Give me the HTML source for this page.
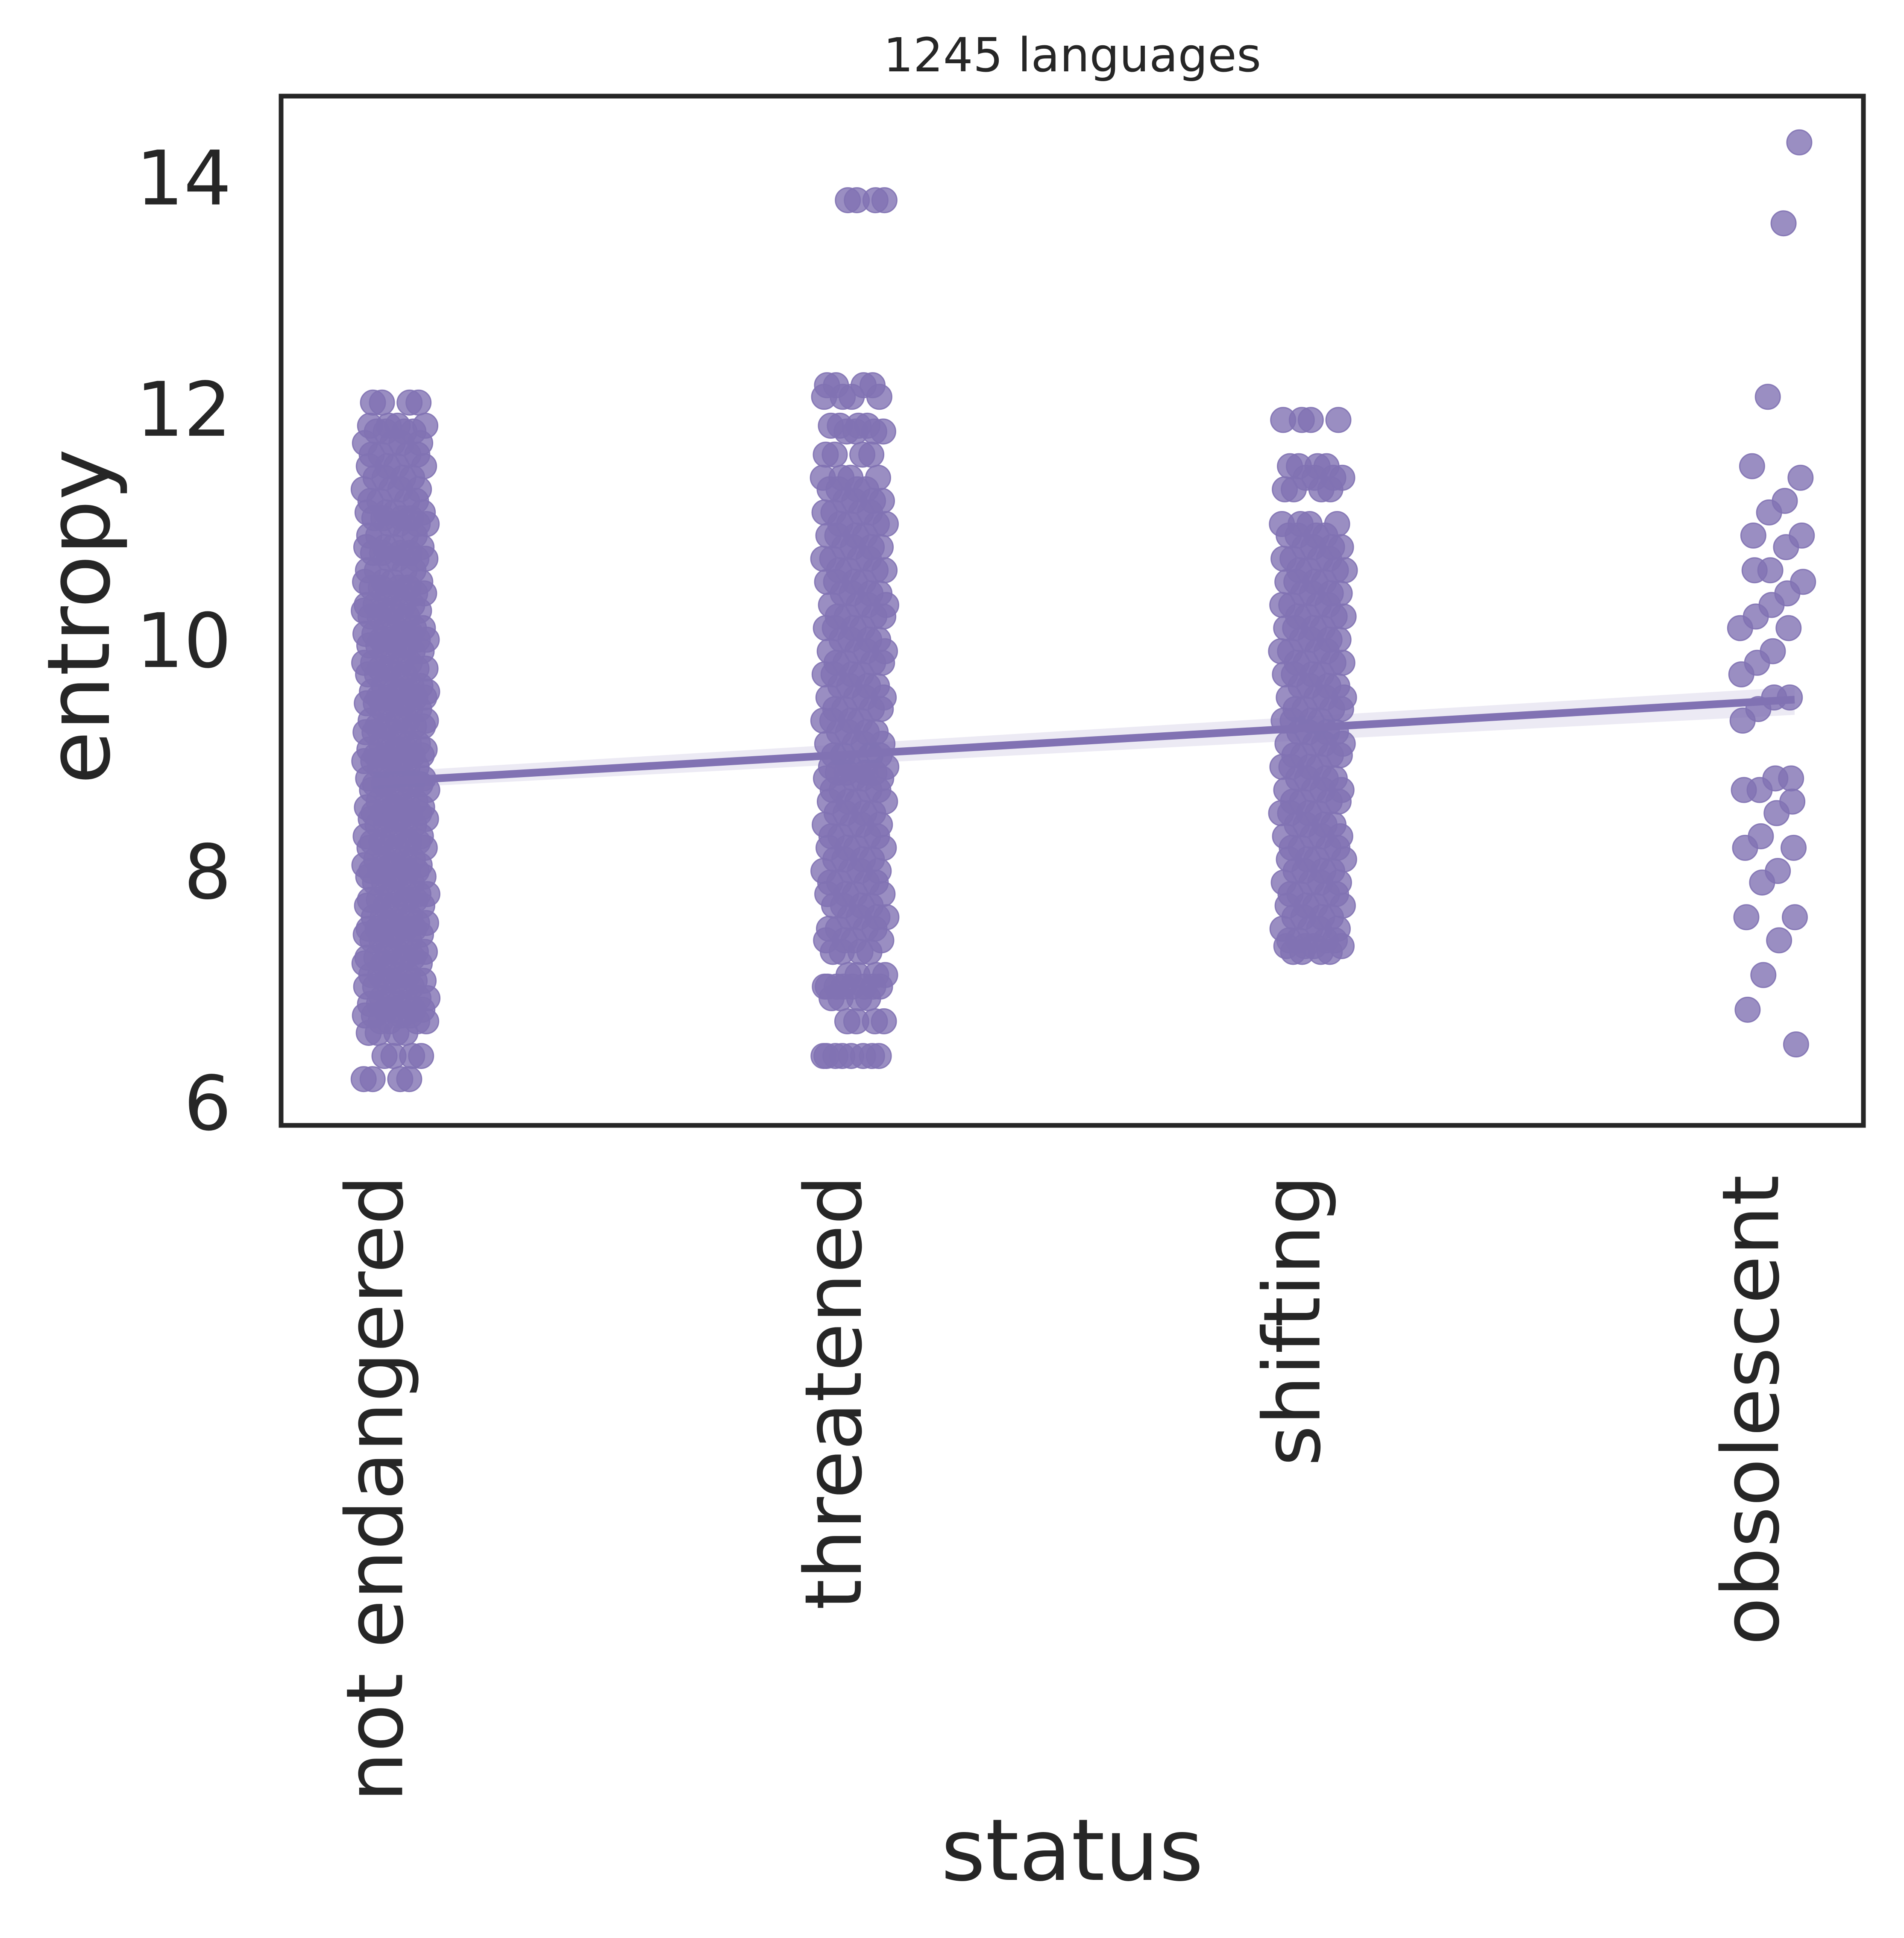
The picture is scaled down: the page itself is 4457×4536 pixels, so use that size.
<!DOCTYPE html>
<html><head><meta charset="utf-8"><style>
html,body{margin:0;padding:0;background:#fff;}
svg{display:block;font-family:"DejaVu Sans","Liberation Sans",sans-serif;}
</style></head><body>
<svg id="chart" width="4457" height="4536" viewBox="0 0 4457 4536" xmlns="http://www.w3.org/2000/svg">
<rect x="0" y="0" width="4457" height="4536" fill="#fff"/>
<g id="marks"></g>
<g id="axes"></g>
</svg>
<script>
const categories = ["not endangered","threatened","shifting","obsolescent"];
const yTicks = [6,8,10,12,14];
const valsNotEndangered = [6.2,6.4,6.6,6.7,6.75,6.8,6.85,6.9,7.0,7.05,7.1,7.2,7.25,7.3,7.4,7.45,7.5,7.55,7.6,7.7,7.75,7.8,7.9,7.95,8.0,8.05,8.1,8.2,8.25,8.3,8.4,8.45,8.5,8.55,8.6,8.7,8.75,8.8,8.9,8.95,9.0,9.05,9.1,9.2,9.25,9.3,9.4,9.45,9.5,9.55,9.6,9.7,9.75,9.8,9.9,9.95,10.0,10.05,10.1,10.2,10.25,10.3,10.4,10.45,10.5,10.6,10.7,10.75,10.8,10.9,11.0,11.05,11.1,11.2,11.3,11.4,11.5,11.6,11.7,11.8,11.85,12.05];
const valsThreatened = [6.4,6.4,6.7,6.9,7.0,7.0,7.1,7.3,7.4,7.5,7.6,7.7,7.8,7.9,8.0,8.1,8.2,8.3,8.4,8.5,8.6,8.7,8.8,8.85,8.9,9.0,9.1,9.2,9.3,9.4,9.5,9.6,9.7,9.8,9.9,10.0,10.1,10.2,10.3,10.4,10.5,10.6,10.7,10.8,10.9,11.0,11.1,11.2,11.3,11.4,11.6,11.8,11.85,12.1,12.2,13.8];
const valsShifting = [7.3,7.35,7.4,7.5,7.6,7.7,7.8,7.9,8.0,8.1,8.2,8.3,8.4,8.5,8.6,8.7,8.8,8.9,9.0,9.1,9.2,9.3,9.4,9.5,9.6,9.7,9.8,9.9,10.0,10.1,10.2,10.3,10.4,10.5,10.6,10.7,10.8,10.9,11.0,11.3,11.4,11.5,11.9];
const valsObsolescent = [14.3,13.6,12.1,11.5,11.4,11.2,11.1,10.9,10.9,10.8,10.6,10.6,10.5,10.4,10.3,10.2,10.1,10.1,9.9,9.8,9.7,9.5,9.5,9.4,9.3,8.8,8.8,8.7,8.7,8.6,8.5,8.3,8.2,8.2,8.0,7.9,7.6,7.6,7.4,7.1,6.8,6.5];
const regStart = 8.78, regEnd = 9.47;

const NS="http://www.w3.org/2000/svg";
const L=658,R=4362,T=225,B=2634;
const xMin=-0.25,xMax=3.2,yMin=5.8,yMax=14.7;
const xs=v=>L+(v-xMin)/(xMax-xMin)*(R-L);
const ys=v=>B-(v-yMin)/(yMax-yMin)*(B-T);
const marks=document.getElementById('marks'), axes=document.getElementById('axes');
function el(tag,attrs,parent){const e=document.createElementNS(NS,tag);for(const k in attrs)e.setAttribute(k,attrs[k]);parent.appendChild(e);return e;}

const groups=[valsNotEndangered,valsThreatened,valsShifting,valsObsolescent];
const copies=[4,4,4,1];
groups.forEach((vals,ci)=>{
  vals.forEach((v,i)=>{
    for(let k=0;k<copies[ci];k++){
      const h=((i*0.7548777+k*0.5698403+ci*0.31)%1);
      const j=(h-0.5)*2*0.07;
      const c=el('circle',{cx:xs(ci+j),cy:ys(v),r:29,fill:'#8172b3','fill-opacity':0.8,stroke:'#8172b3','stroke-opacity':0.9,'stroke-width':3},marks);
      
      
    }
  });
});
const band=el('polygon',{points:`${xs(-0.05)},${ys(regStart+0.07)} ${xs(3.05)},${ys(regEnd+0.12)} ${xs(3.05)},${ys(regEnd-0.12)} ${xs(-0.05)},${ys(regStart-0.07)}`,fill:'#8172b3','fill-opacity':0.15},marks);


const line=el('line',{x1:xs(-0.05),y1:ys(regStart-0.05*(regEnd-regStart)/3),x2:xs(3.05),y2:ys(regEnd+0.05*(regEnd-regStart)/3),stroke:'#8172b3','stroke-width':18},marks);



const frame=el('rect',{x:L,y:T,width:R-L,height:B-T,fill:'none',stroke:'#262626','stroke-width':11},axes);


yTicks.forEach(t=>{
  const tx=el('text',{x:542,y:ys(t)+64,'text-anchor':'end','font-size':176,fill:'#262626'},axes);
  tx.textContent=t;
  
  
});
categories.forEach((c,i)=>{
  const x=xs(i)+15;
  const tx=el('text',{x:x,y:2750,'text-anchor':'end','font-size':184,fill:'#262626',transform:`rotate(-90 ${x} 2750)`},axes);
  tx.textContent=c;
  
  
});
const yl=el('text',{x:255,y:1443,'text-anchor':'middle','font-size':203,fill:'#262626',transform:'rotate(-90 255 1443)'},axes);
yl.textContent='entropy';


const xl=el('text',{x:2510,y:4400,'text-anchor':'middle','font-size':200,fill:'#262626'},axes);
xl.textContent='status';


const ti=el('text',{x:2510,y:167,'text-anchor':'middle','font-size':110,fill:'#262626'},axes);
ti.textContent='1245 languages';


</script>
</body></html>
